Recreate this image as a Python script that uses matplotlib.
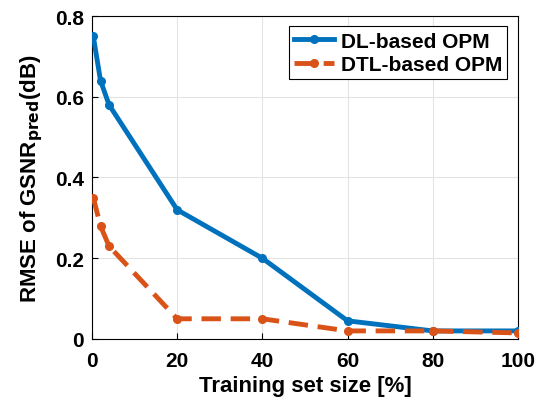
import matplotlib

matplotlib.use("Agg")

import matplotlib.pyplot as plt

# 训练集比例 (%) 与两种 OPM 的 GSNR 预测 RMSE (dB)
train_size = [0.3, 2, 4, 20, 40, 60, 80, 100]
rmse_dl = [0.75, 0.64, 0.58, 0.32, 0.20, 0.045, 0.02, 0.02]
rmse_dtl = [0.35, 0.28, 0.23, 0.05, 0.05, 0.02, 0.02, 0.015]

x_ticks = [0, 20, 40, 60, 80, 100]
y_ticks = [0, 0.2, 0.4, 0.6, 0.8]

plt.rcParams["font.family"] = ["Liberation Sans", "DejaVu Sans"]
plt.rcParams["font.weight"] = "bold"
plt.rcParams["mathtext.default"] = "bf"

fig = plt.figure(figsize=(5.46, 4.06), dpi=100)
ax = fig.add_axes([0.1685, 0.1626, 0.78, 0.7955])

ax.plot(train_size, rmse_dl, color="#0072BD", linewidth=3.5, marker="o",
        markersize=5.5, label="DL-based OPM", zorder=3)
ax.plot(train_size, rmse_dtl, color="#D95319", linewidth=3.5, marker="o",
        markersize=5.5, linestyle=(0, (4, 2)), label="DTL-based OPM", zorder=3)

ax.set_xlim(0, 100)
ax.set_ylim(0, 0.8)
ax.set_xticks(x_ticks)
ax.set_yticks(y_ticks)
ax.set_yticklabels(["0", "0.2", "0.4", "0.6", "0.8"])
ax.grid(True, color="#e3e3e3", linewidth=0.8)
ax.set_axisbelow(True)
ax.tick_params(direction="in", labelsize=15, length=4, width=0.8)
ax.tick_params(axis="x", pad=9)
ax.tick_params(axis="y", pad=6)
for lab in ax.get_xticklabels() + ax.get_yticklabels():
    lab.set_fontweight("bold")
for sp in ax.spines.values():
    sp.set_linewidth(0.8)

ax.set_xlabel("Training set size [%]", fontsize=16, fontweight="bold", labelpad=3)
ax.set_ylabel(r"RMSE of GSNR$_{\mathbf{pred}}$(dB)", fontsize=16,
              fontweight="bold", labelpad=7)

leg = ax.legend(loc="upper right", fontsize=15, handlelength=1.9,
                borderpad=0.25, labelspacing=0.2, handletextpad=0.35,
                fancybox=False, edgecolor="black", framealpha=1,
                borderaxespad=0.5)
leg.get_frame().set_linewidth(0.8)
for t in leg.get_texts():
    t.set_fontweight("bold")

fig.savefig("out.png", dpi=100, facecolor="white")
